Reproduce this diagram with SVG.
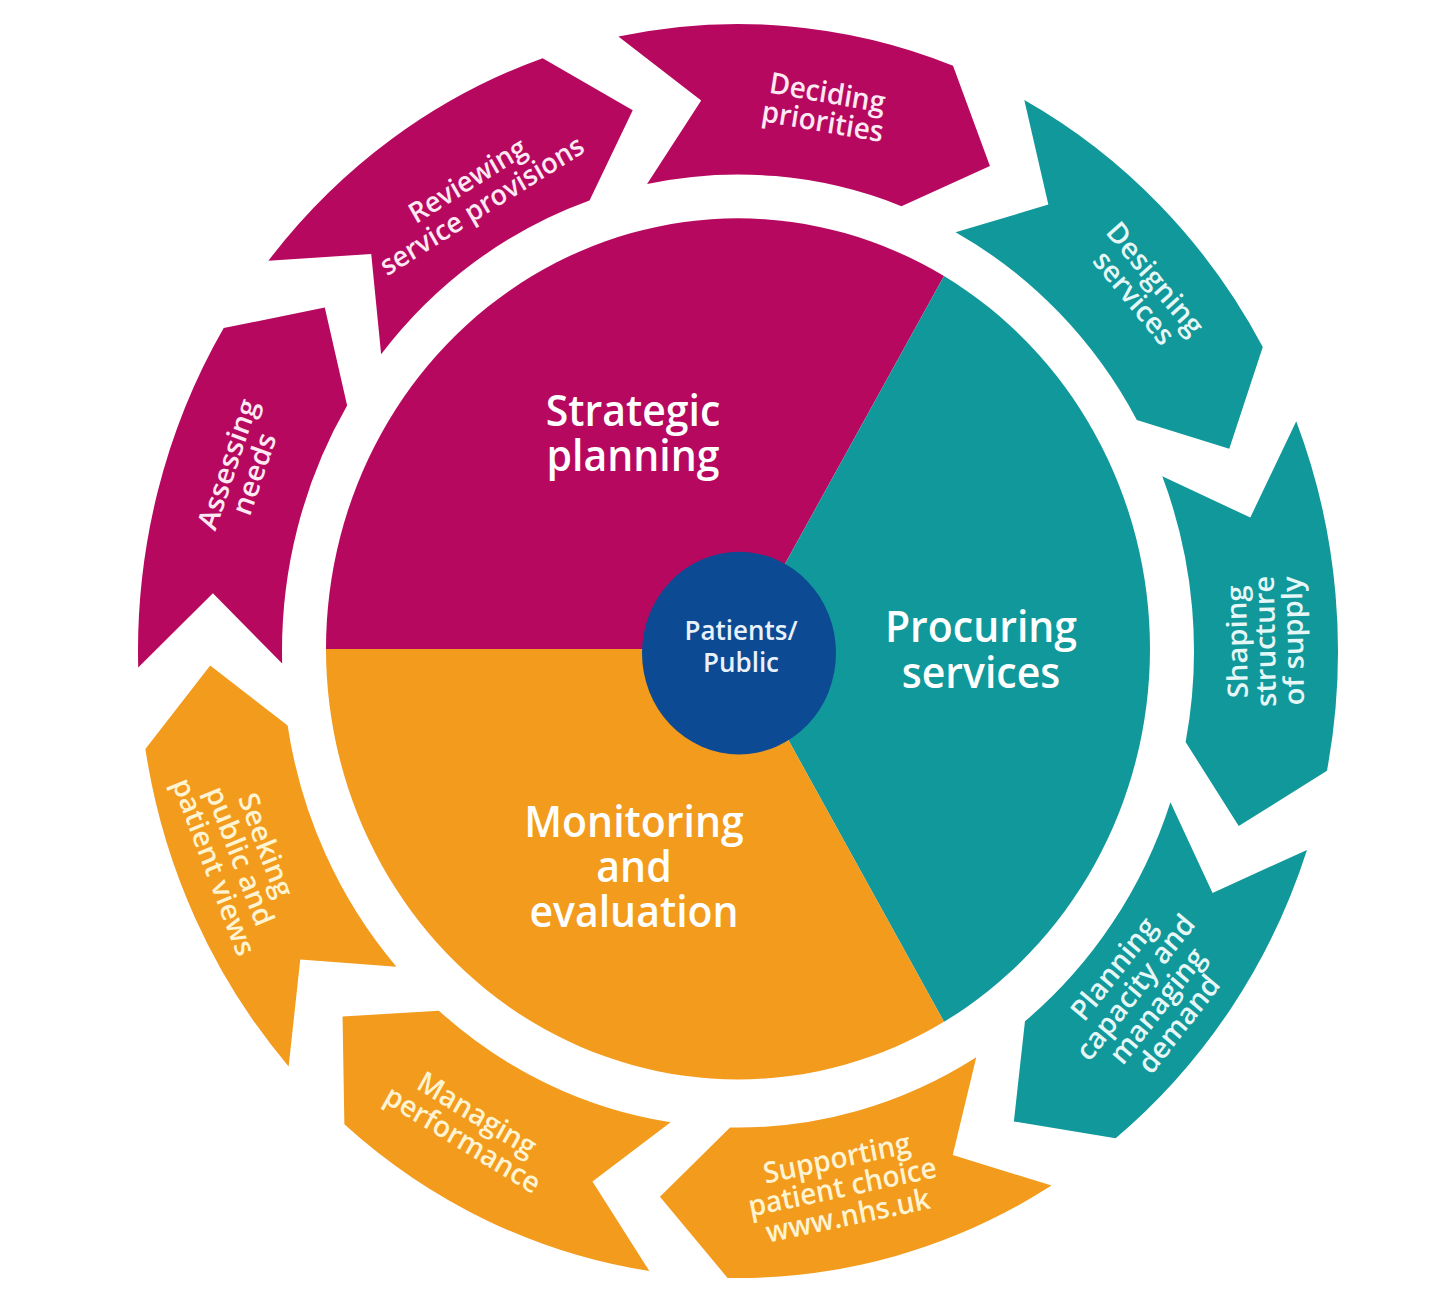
<svg xmlns="http://www.w3.org/2000/svg" xmlns:xlink="http://www.w3.org/1999/xlink" width="1429" height="1300" viewBox="0 0 1429 1300">
<style>
.mag{fill:#B7085F}
.teal{fill:#10989A}
.orng{fill:#F29B1D}
.ctr{fill:#0C4B94}
.rt{font-family:"Open Sans","Noto Sans",sans-serif;font-weight:600;font-size:28px;text-anchor:middle}
.big{font-family:"Open Sans","Noto Sans",sans-serif;font-weight:600;font-size:41px;text-anchor:middle}
.mt{fill:#FCE9F3}
.tt{fill:#E6F7F7}
.ot{fill:#FFF4D2}
.wt{fill:#FFFFFF}
.ct{font-family:"Open Sans","Noto Sans",sans-serif;font-weight:600;font-size:26px;text-anchor:middle;fill:#E9F1FB}
</style>
<defs>
<path id="seg" d="M600,0 A600,600 0 0 1 506.03,322.38 L404.47,339.39 L384.59,245.01 A456,456 0 0 0 456,0 L523.48,68.92 Z"/>
</defs>
<rect width="1429" height="1300" fill="#FFFFFF"/>
<g transform="translate(738,651) scale(1,1.045)">
  <g id="strategic-planning">
    <path class="mag" d="M0,-2 L-412,-2 A412,412 0 0 1 206,-358.8 Z"/>
    <text class="big wt"><tspan x="-105" y="-215">Strategic</tspan><tspan x="-105" y="-172">planning</tspan></text>
  </g>
  <g id="procuring-services">
    <path class="teal" d="M0,-2 L206,-358.8 A412,412 0 0 1 206,354.8 Z"/>
    <text class="big wt"><tspan x="243" y="-9">Procuring</tspan><tspan x="243" y="35">services</tspan></text>
  </g>
  <g id="monitoring-evaluation">
    <path class="orng" d="M0,-2 L206,354.8 A412,412 0 0 1 -412,-2 Z"/>
    <text class="big wt"><tspan x="-104" y="178">Monitoring</tspan><tspan x="-104" y="221">and</tspan><tspan x="-104" y="264">evaluation</tspan></text>
  </g>
  <g id="patients-public">
    <circle class="ctr" cx="1" cy="2" r="97"/>
    <text class="ct"><tspan x="3" y="-11">Patients/</tspan><tspan x="3" y="20">Public</tspan></text>
  </g>

  <g id="deciding-priorities">
    <use xlink:href="#seg" class="mag" transform="rotate(-101.5)"/>
    <text class="rt mt" transform="rotate(-80.5) translate(528,0) rotate(90)"><tspan x="0" y="-4">Deciding</tspan><tspan x="0" y="24">priorities</tspan></text>
  </g>
  <g id="designing-services">
    <use xlink:href="#seg" class="teal" transform="rotate(-61.5)"/>
    <text class="rt tt" transform="rotate(-40.5) translate(535,0) rotate(90)"><tspan x="0" y="-4">Designing</tspan><tspan x="0" y="24">services</tspan></text>
  </g>
  <g id="shaping-structure">
    <use xlink:href="#seg" class="teal" transform="rotate(-21.5)"/>
    <text class="rt tt" transform="rotate(-1) translate(527,0) rotate(-90)"><tspan x="0" y="-18">Shaping</tspan><tspan x="0" y="10">structure</tspan><tspan x="0" y="38">of supply</tspan></text>
  </g>
  <g id="planning-capacity">
    <use xlink:href="#seg" class="teal" transform="rotate(18.5)"/>
    <text class="rt tt" transform="rotate(39) translate(525,0) rotate(-90)"><tspan x="0" y="-32">Planning</tspan><tspan x="0" y="-4">capacity and</tspan><tspan x="0" y="24">managing</tspan><tspan x="0" y="52">demand</tspan></text>
  </g>
  <g id="supporting-patient-choice">
    <use xlink:href="#seg" class="orng" transform="rotate(58.5)"/>
    <text class="rt ot" transform="rotate(78.5) translate(523,0) rotate(-90)"><tspan x="0" y="-18">Supporting</tspan><tspan x="0" y="10">patient choice</tspan><tspan x="0" y="38">www.nhs.uk</tspan></text>
  </g>
  <g id="managing-performance">
    <use xlink:href="#seg" class="orng" transform="rotate(98.5)"/>
    <text class="rt ot" transform="rotate(120.5) translate(528,0) rotate(-90)"><tspan x="0" y="-4">Managing</tspan><tspan x="0" y="24">performance</tspan></text>
  </g>
  <g id="seeking-views">
    <use xlink:href="#seg" class="orng" transform="rotate(138.5)"/>
    <text class="rt ot" transform="rotate(158.5) translate(535,0) rotate(-90)"><tspan x="0" y="-18">Seeking</tspan><tspan x="0" y="10">public and</tspan><tspan x="0" y="38">patient views</tspan></text>
  </g>
  <g id="assessing-needs">
    <use xlink:href="#seg" class="mag" transform="rotate(178.5)"/>
    <text class="rt mt" transform="rotate(-160.7) translate(527,0) rotate(90)"><tspan x="0" y="-4">Assessing</tspan><tspan x="0" y="24">needs</tspan></text>
  </g>
  <g id="reviewing-provisions">
    <use xlink:href="#seg" class="mag" transform="rotate(218.5)"/>
    <text class="rt mt" style="font-size:27px" transform="rotate(-121) translate(512,0) rotate(90)"><tspan x="0" y="-4">Reviewing</tspan><tspan x="0" y="24">service provisions</tspan></text>
  </g>
  <g id="connectors"/>
</g>
</svg>
